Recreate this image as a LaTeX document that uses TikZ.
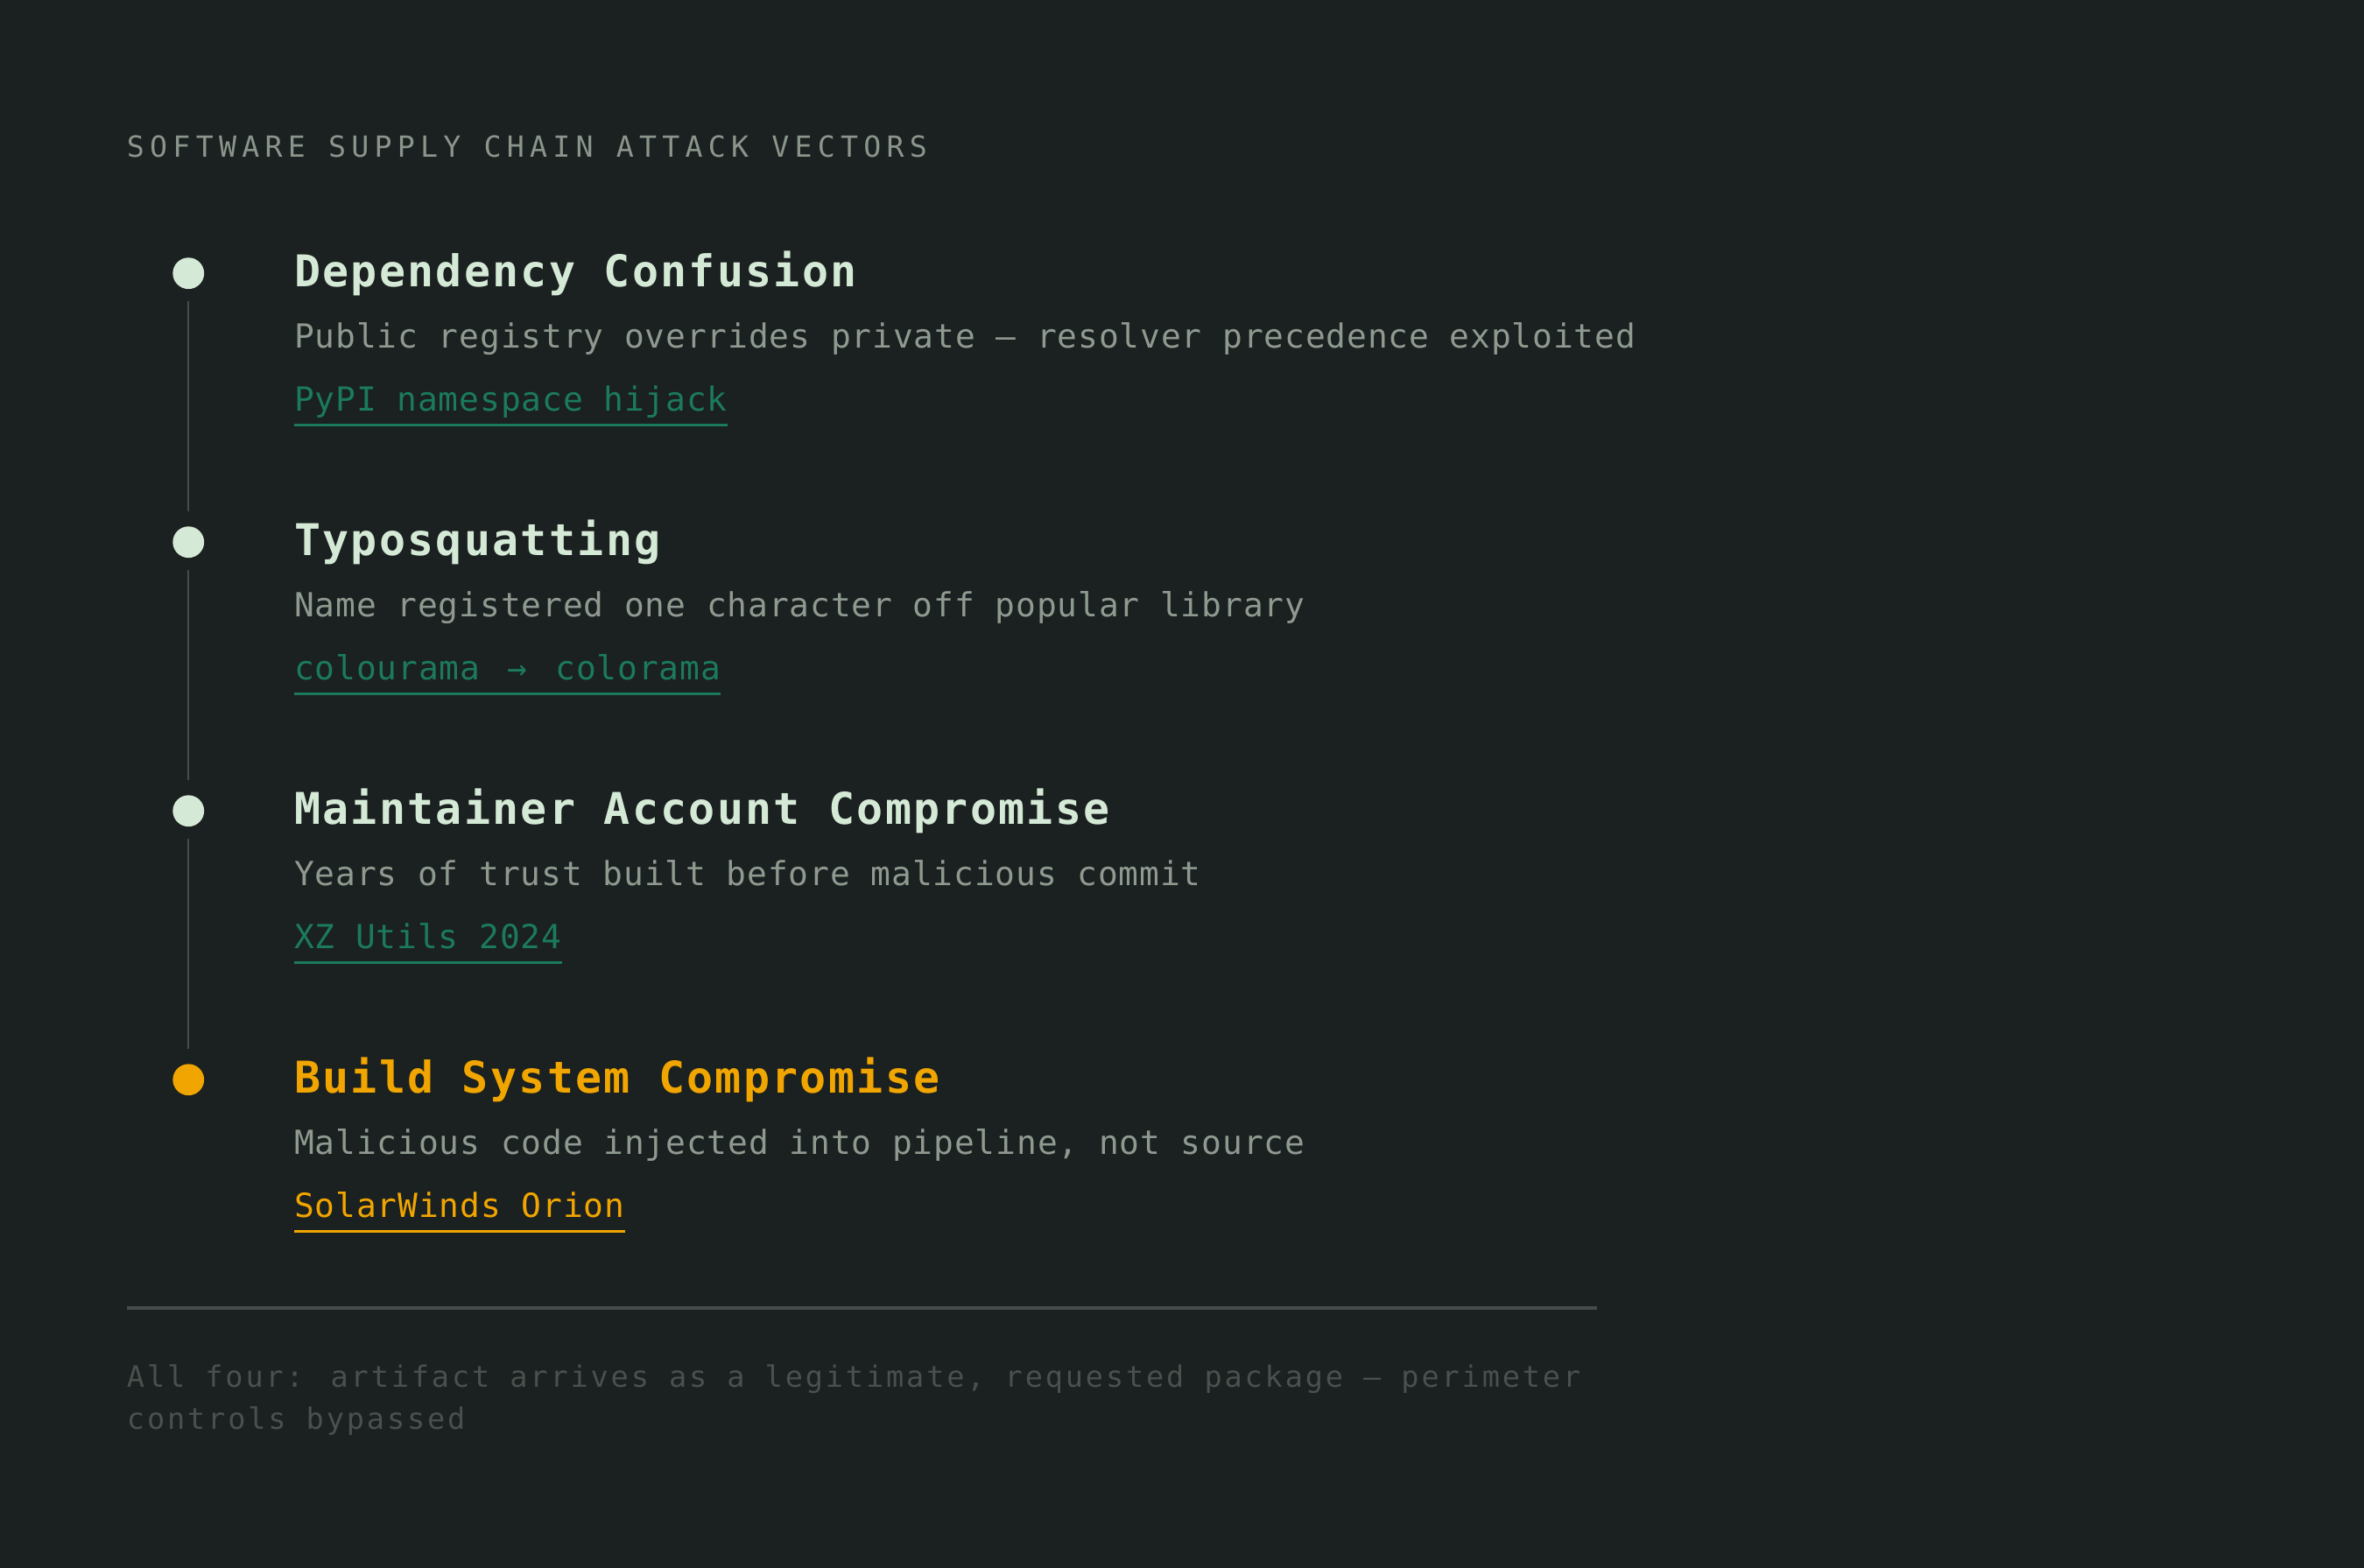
\documentclass[tikz,border=0pt]{standalone}
\usepackage{fontspec}
\setmonofont{DejaVu Sans Mono}
\newfontfamily\kickerfont[LetterSpace=18.8]{DejaVu Sans Mono}
\newfontfamily\headfont[LetterSpace=4.6]{DejaVu Sans Mono}
\newfontfamily\bodyfont[LetterSpace=2.3]{DejaVu Sans Mono}
\newfontfamily\footfont[LetterSpace=8.5]{DejaVu Sans Mono}
\usetikzlibrary{positioning}
\definecolor{bgdark}{HTML}{1B2020}
\definecolor{mint}{HTML}{D5EAD6}
\definecolor{sage}{HTML}{8E9A90}
\definecolor{kicker}{HTML}{8A958C}
\definecolor{linkgreen}{HTML}{1B7A5C}
\definecolor{amber}{HTML}{F0A500}
\definecolor{railgrey}{HTML}{464C4A}
\definecolor{footgrey}{HTML}{4A504D}
\newcommand{\widearrow}{\makebox[22.5pt][c]{→}}
\tikzset{
    bullet/.style={
           circle,
           fill=mint,
           minimum size=20.8pt,
           inner sep=0pt,
           },
    bulletlive/.style={bullet, fill=amber},
    rail/.style={draw=railgrey, line width=1.2pt, shorten <=8pt, shorten >=10pt},
    heading/.style={anchor=base west, inner sep=0pt, text=mint,
           font=\headfont\bfseries\fontsize{29}{34}\selectfont},
    blurb/.style={anchor=base west, inner sep=0pt, text=sage,
           font=\bodyfont\fontsize{22}{26}\selectfont},
    example/.style={anchor=base west, inner sep=0pt, text=linkgreen,
           font=\bodyfont\fontsize{22}{26}\selectfont},
    underline/.style={draw=linkgreen, line width=1.6pt},
}

\begin{document}
\begin{tikzpicture}[x=1pt, y=-1pt]
\fill[bgdark] (0,0) rectangle (1568,1040);
\useasboundingbox (0,0) rectangle (1568,1040);
% title
\node[anchor=base west, inner sep=0pt, text=kicker, font=\kickerfont\fontsize{19.3}{23}\selectfont] (title) at (84,104) {SOFTWARE SUPPLY CHAIN ATTACK VECTORS};
% bullets
\node[bullet] (d1) at (125,181.3) {};
\node[bullet] (d2) at (125,359.6) {};
\node[bullet] (d3) at (125,537.9) {};
\node[bulletlive] (d4) at (125,716.2) {};
\draw[rail] (d1) -- (d2);
\draw[rail] (d2) -- (d3);
\draw[rail] (d3) -- (d4);
% vector 1
\node[heading] (h1) at (195,190) {Dependency Confusion};
\node[blurb] (b1) at (195,230.7) {Public registry overrides private — resolver precedence exploited};
\node[example] (e1) at (195,272.5) {PyPI namespace hijack};
\draw[underline] ([yshift=-9.5pt]e1.base west) -- ([yshift=-9.5pt]e1.base east);
% vector 2
\node[heading] (h2) at (195,368.3) {Typosquatting};
\node[blurb] (b2) at (195,409) {Name registered one character off popular library};
\node[example] (e2) at (195,450.8) {colourama \widearrow{} colorama};
\draw[underline] ([yshift=-9.5pt]e2.base west) -- ([yshift=-9.5pt]e2.base east);
% vector 3
\node[heading] (h3) at (195,546.6) {Maintainer Account Compromise};
\node[blurb] (b3) at (195,587.3) {Years of trust built before malicious commit};
\node[example] (e3) at (195,629.1) {XZ Utils 2024};
\draw[underline] ([yshift=-9.5pt]e3.base west) -- ([yshift=-9.5pt]e3.base east);
% vector 4
\node[heading, text=amber] (h4) at (195,724.9) {Build System Compromise};
\node[blurb] (b4) at (195,765.6) {Malicious code injected into pipeline, not source};
\node[example, text=amber] (e4) at (195,807.4) {SolarWinds Orion};
\draw[underline, draw=amber] ([yshift=-9.5pt]e4.base west) -- ([yshift=-9.5pt]e4.base east);
% footer
\coordinate (ruleL) at (84,867.6);
\coordinate (ruleR) at (1059,867.6);
\draw[railgrey, line width=1.8pt] (ruleL) -- (ruleR);
\node[anchor=base west, inner sep=0pt, text=footgrey, font=\footfont\fontsize{19.5}{23}\selectfont] (f1) at (84,920) {All four: artifact arrives as a legitimate, requested package — perimeter};
\node[anchor=base west, inner sep=0pt, text=footgrey, font=\footfont\fontsize{19.5}{23}\selectfont] (f2) at (84,948) {controls bypassed};
\end{tikzpicture}
\end{document}
